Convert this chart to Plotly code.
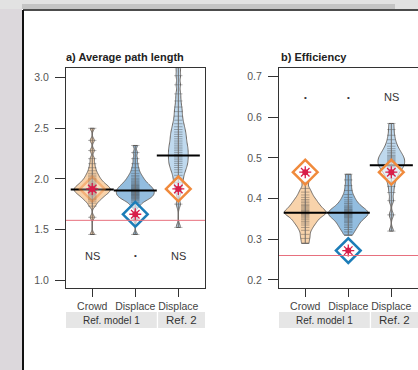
import plotly.graph_objects as go

# ---------------- data ----------------
categories = ["Crowd", "Displace", "Displace"]
cat_pos = [0, 1, 2]
groups = ["Ref. model 1", "Ref. 2"]

a_crowd = [1.45, 1.62, 1.73, 1.76, 1.78, 1.795, 1.807, 1.818, 1.828, 1.837, 1.845,
           1.853, 1.86, 1.867, 1.873, 1.879, 1.885, 1.891, 1.897, 1.903, 1.909,
           1.915, 1.921, 1.928, 1.935, 1.943, 1.951, 1.96, 1.97, 1.98, 1.992, 2.005,
           2.02, 2.037, 2.055, 2.08, 2.11, 2.15, 2.20, 2.28, 2.38, 2.50]
a_displace = [1.45, 1.60, 1.72, 1.745, 1.765, 1.78, 1.79, 1.799, 1.807, 1.814, 1.821,
              1.828, 1.834, 1.84, 1.846, 1.852, 1.858, 1.864, 1.87, 1.876, 1.882,
              1.888, 1.894, 1.90, 1.906, 1.913, 1.92, 1.927, 1.934, 1.942, 1.95,
              1.96, 1.97, 1.98, 1.992, 2.005, 2.02, 2.035, 2.055, 2.08, 2.11, 2.15,
              2.20, 2.26, 2.33]
a_ref2 = [1.52, 1.75, 1.86, 1.92, 1.965, 2.00, 2.035, 2.065, 2.09, 2.112, 2.133,
          2.152, 2.17, 2.188, 2.206, 2.224, 2.242, 2.26, 2.278, 2.296, 2.314, 2.333,
          2.353, 2.374, 2.396, 2.418, 2.44, 2.463, 2.488, 2.515, 2.545, 2.58, 2.62,
          2.665, 2.71, 2.77, 2.84, 2.93, 3.02, 3.10]
a_means = [1.895, 1.885, 2.23]
a_refvals = [1.90, 1.65, 1.90]
a_refline = 1.59
a_sig = ["NS", "•", "NS"]
a_sig_y = 1.24

# panel b: efficiency samples
b_crowd = [0.29, 0.302, 0.312, 0.322, 0.329, 0.335, 0.34, 0.344, 0.348, 0.352, 0.355,
           0.358, 0.361, 0.363, 0.365, 0.367, 0.369, 0.371, 0.374, 0.377, 0.38,
           0.383, 0.386, 0.39, 0.394, 0.398, 0.403, 0.409, 0.416, 0.425, 0.44]
b_displace = [0.31, 0.318, 0.324, 0.329, 0.333, 0.337, 0.341, 0.344, 0.347, 0.35,
              0.353, 0.355, 0.357, 0.359, 0.361, 0.363, 0.365, 0.367, 0.369, 0.371,
              0.373, 0.375, 0.378, 0.381, 0.384, 0.388, 0.392, 0.397, 0.403, 0.41,
              0.42, 0.432, 0.446, 0.46]
b_ref2 = [0.32, 0.36, 0.395, 0.415, 0.43, 0.442, 0.45, 0.457, 0.463, 0.468, 0.472,
          0.476, 0.479, 0.482, 0.485, 0.488, 0.491, 0.494, 0.497, 0.50, 0.503,
          0.506, 0.51, 0.514, 0.518, 0.523, 0.529, 0.536, 0.545, 0.556, 0.57, 0.585]
b_means = [0.365, 0.365, 0.482]
b_refvals = [0.465, 0.272, 0.465]
b_refline = 0.26
b_sig = ["•", "•", "NS"]
b_sig_y = 0.65

a_ticks = [1.0, 1.5, 2.0, 2.5, 3.0]
b_ticks = [0.2, 0.3, 0.4, 0.5, 0.6, 0.7]

# ---------------- style ----------------
W, H = 418, 370
ORANGE_FILL = "rgba(246,200,150,0.8)"
BLUE_FILL = "rgba(120,172,215,0.8)"
BLUE_LIGHT_FILL = "rgba(175,208,234,0.8)"
OUTLINE = "#6f6a66"
ORANGE = "#f08a3c"
BLUE = "#1c7db8"
RED = "#d81e4a"
violin_fills = [ORANGE_FILL, BLUE_FILL, BLUE_LIGHT_FILL]
diamond_cols = [ORANGE, BLUE, ORANGE]
a_widths = [0.84, 0.88, 0.46]
b_widths = [0.97, 0.92, 0.62]
a_bw = [0.022, 0.022, 0.035]
b_bw = [0.0065, 0.0065, 0.008]
a_diamond_alpha = [0.45, 1, 1]
b_diamond_alpha = [1, 1, 1]
RUG = "rgba(50,50,50,0.35)"

fig = go.Figure()


def add_panel(samples, widths, bws, means, refvals, dalpha, refline, sig, sig_y,
              xa, ya):
    xref, yref = xa, ya
    for i, s in enumerate(samples):
        fig.add_trace(go.Violin(
            x=[cat_pos[i]] * len(s), y=s, xaxis=xref, yaxis=yref,
            width=widths[i], bandwidth=bws[i], spanmode="hard", scalemode="width",
            fillcolor=violin_fills[i], line=dict(color=OUTLINE, width=1),
            points="all", pointpos=0, jitter=0,
            marker=dict(symbol="line-ew-open", size=6, color=RUG,
                        line=dict(color=RUG, width=1)),
            box_visible=False, meanline_visible=False, showlegend=False,
            hoverinfo="skip"))
        fig.add_trace(go.Scatter(
            x=[cat_pos[i], cat_pos[i]], y=[min(s), max(s)], xaxis=xref, yaxis=yref,
            mode="lines", line=dict(color=OUTLINE, width=1), showlegend=False,
            hoverinfo="skip"))
    for i, m in enumerate(means):
        fig.add_trace(go.Scatter(
            x=[cat_pos[i] - 0.5, cat_pos[i] + 0.5], y=[m, m], xaxis=xref, yaxis=yref,
            mode="lines", line=dict(color="black", width=2), showlegend=False,
            hoverinfo="skip"))
    fig.add_trace(go.Scatter(
        x=cat_pos, y=refvals, xaxis=xref, yaxis=yref, mode="markers",
        marker=dict(symbol="diamond", size=19, color="rgba(255,255,255,0.6)",
                    opacity=dalpha, line=dict(color=diamond_cols, width=2.5)),
        showlegend=False, hoverinfo="skip"))
    fig.add_trace(go.Scatter(
        x=cat_pos, y=refvals, xaxis=xref, yaxis=yref, mode="markers",
        marker=dict(symbol="circle", size=6, color=RED),
        showlegend=False, hoverinfo="skip"))
    fig.add_trace(go.Scatter(
        x=cat_pos, y=refvals, xaxis=xref, yaxis=yref, mode="markers",
        marker=dict(symbol="asterisk-open", size=10, color=RED,
                    line=dict(color=RED, width=1.3)),
        showlegend=False, hoverinfo="skip"))
    fig.add_shape(type="line", xref=f"{xref} domain", yref=yref, x0=0, x1=1,
                  y0=refline, y1=refline, line=dict(color="#e7707e", width=1))
    for i, t in enumerate(sig):
        fig.add_annotation(x=cat_pos[i], y=sig_y, xref=xref, yref=yref, text=t,
                           showarrow=False,
                           font=dict(size=11 if t == "NS" else 8, color="#333"))
    spans = [(-0.61, 1.5), (1.53, 2.62)]
    for (x0, x1), g in zip(spans, groups):
        fig.add_shape(type="rect", xref=xref, yref="paper", x0=x0, x1=x1,
                      y0=(H - 328) / H, y1=(H - 312) / H,
                      fillcolor="#e6e6e6", line=dict(width=0), layer="below")
        fig.add_annotation(x=(x0 + x1) / 2, y=(H - 320) / H, xref=xref, yref="paper",
                           text=g, showarrow=False, yanchor="middle",
                           font=dict(size=10 if g != "Ref. 2" else 11.5, color="#333"))


add_panel([a_crowd, a_displace, a_ref2], a_widths, a_bw, a_means, a_refvals,
          a_diamond_alpha, a_refline, a_sig, a_sig_y, "x", "y")
add_panel([b_crowd, b_displace, b_ref2], b_widths, b_bw, b_means, b_refvals,
          b_diamond_alpha, b_refline, b_sig, b_sig_y, "x2", "y2")

FONT = "Arial, Liberation Sans, sans-serif"
ydom = [(H - 288) / H, (H - 68) / H]
common_x = dict(range=[-0.61, 2.62], tickvals=cat_pos, ticktext=categories,
                showline=True, mirror=True, linecolor="#333", linewidth=1,
                ticks="outside", ticklen=8, tickcolor="#333", showgrid=False,
                zeroline=False, tickfont=dict(size=10.5, color="#444", family=FONT),
                ticklabelstandoff=0, fixedrange=True)
common_y = dict(showline=True, mirror=True, linecolor="#333", linewidth=1,
                ticks="outside", ticklen=10, tickcolor="#333", showgrid=False,
                zeroline=False, tickfont=dict(size=10.5, color="#555", family=FONT),
                ticklabelstandoff=4, domain=ydom, fixedrange=True)

fig.update_layout(
    width=W, height=H, margin=dict(l=0, r=0, t=0, b=0),
    paper_bgcolor="white", plot_bgcolor="rgba(0,0,0,0)",
    font=dict(family=FONT), violinmode="overlay",
    xaxis=dict(common_x, domain=[66 / W, 205 / W], anchor="y"),
    yaxis=dict(common_y, range=[0.921, 3.096], tickvals=a_ticks,
               ticktext=[f"{v:.1f}" for v in a_ticks], anchor="x"),
    xaxis2=dict(common_x, domain=[279 / W, 1.0], anchor="y2"),
    yaxis2=dict(common_y, range=[0.180, 0.7215], tickvals=b_ticks,
                ticktext=[f"{v:.1f}" for v in b_ticks], anchor="x2"),
)

fig.add_annotation(x=64 / W, y=(H - 57) / H, xref="paper", yref="paper",
                   xanchor="left", yanchor="middle", showarrow=False,
                   text="<b>a) Average path length</b>",
                   font=dict(size=11, color="#222"))
fig.add_annotation(x=279 / W, y=(H - 57) / H, xref="paper", yref="paper",
                   xanchor="left", yanchor="middle", showarrow=False,
                   text="<b>b) Efficiency</b>", font=dict(size=11, color="#222"))

# page frame (screenshot surround)
fig.add_shape(type="rect", xref="paper", yref="paper", x0=0, x1=22 / W, y0=0, y1=1,
              fillcolor="#dcd8dc", line=dict(width=0), layer="below")
fig.add_shape(type="rect", xref="paper", yref="paper", x0=0, x1=1, y0=(H - 9) / H, y1=1,
              fillcolor="#e2e2e2", line=dict(width=0), layer="below")
fig.add_shape(type="rect", xref="paper", yref="paper", x0=22 / W, x1=395 / W,
              y0=(H - 9) / H, y1=(H - 4) / H,
              fillcolor="#c4c4c4", line=dict(width=0), layer="below")
fig.add_shape(type="line", xref="paper", yref="paper", x0=23 / W, x1=23 / W,
              y0=0, y1=(H - 10) / H, line=dict(color="#111", width=2))
fig.add_shape(type="line", xref="paper", yref="paper", x0=23 / W, x1=1,
              y0=(H - 10) / H, y1=(H - 10) / H, line=dict(color="#111", width=1.5))

fig.write_html("out.html", config={"displayModeBar": False, "staticPlot": True},
               post_script="document.body.style.margin='0';"
                           "document.body.style.overflow='hidden';")
